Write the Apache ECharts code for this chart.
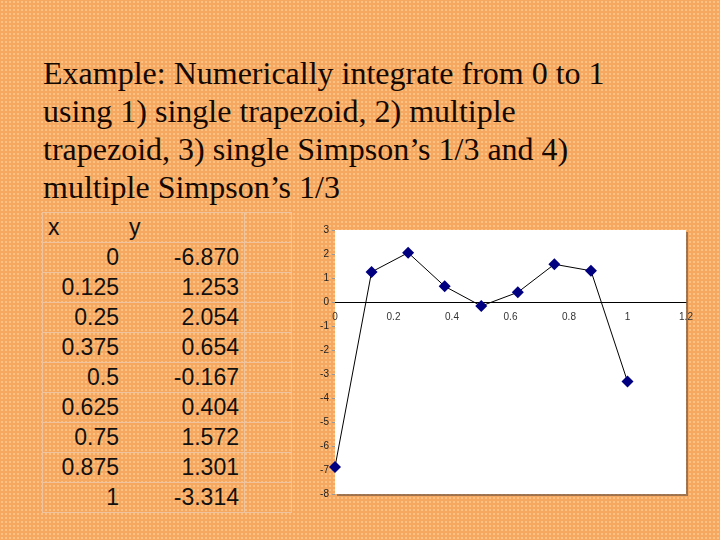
<!DOCTYPE html>
<html>
<head>
<meta charset="utf-8">
<script src="https://cdn.jsdelivr.net/npm/echarts@6/dist/echarts.min.js"></script>
<style>
  html, body { margin: 0; padding: 0; }
  body {
    width: 720px; height: 540px; overflow: hidden; position: relative;
    background-color: #f6a861;
    background-image: radial-gradient(circle, #fbc283 0.9px, transparent 1.2px);
    background-size: 4px 4px;
  }
  #title {
    position: absolute; left: 43px; top: 54px; margin: 0;
    font-family: "Liberation Serif", "Times New Roman", serif;
    font-size: 32px; line-height: 38px; font-weight: normal; color: #140800;
  }
  #table {
    position: absolute; left: 42px; top: 212px;
    border-collapse: collapse;
    font-family: "Liberation Sans", Arial, sans-serif; font-size: 23px; color: #111;
  }
  #table td {
    height: 29px; padding: 0 5px; border-top: 1px solid #eec39e; border-bottom: 1px solid #eec39e;
  }
  #table td.c1 { width: 71px; text-align: right; border-left: 1px solid #eec39e; }
  #table td.c2 { width: 110px; text-align: right; border-right: 1px solid #eec39e; }
  #table td.c3 { width: 36px; border-right: 1px solid #eec39e; }
  #chart { position: absolute; left: 0; top: 0; width: 720px; height: 540px; }
</style>
</head>
<body>
<div id="title">Example: Numerically integrate from 0 to 1<br>using 1) single trapezoid, 2) multiple<br>trapezoid, 3) single Simpson’s 1/3 and 4)<br>multiple Simpson’s 1/3</div>
<table id="table"></table>
<div id="chart"></div>
<script>
const xLabels = ['0', '0.125', '0.25', '0.375', '0.5', '0.625', '0.75', '0.875', '1'];
const xValues = [0, 0.125, 0.25, 0.375, 0.5, 0.625, 0.75, 0.875, 1];
const yValues = [-6.870, 1.253, 2.054, 0.654, -0.167, 0.404, 1.572, 1.301, -3.314];
const yMin = -8;
const yMax = 3;

// table on the left
const table = document.getElementById('table');
let rows = '<tr><td class="c1" style="text-align:left">x</td><td class="c2" style="text-align:left">y</td><td class="c3"></td></tr>';
xLabels.forEach((label, i) => {
  rows += `<tr><td class="c1">${label}</td><td class="c2">${yValues[i].toFixed(3)}</td><td class="c3"></td></tr>`;
});
table.innerHTML = rows;

const gridTop = 230;
const gridBottom = 46;
const gridHeight = 540 - gridTop - gridBottom;
// x axis sits on y = 0, with its labels right under it
const zeroOffset = -gridHeight * (0 - yMin) / (yMax - yMin);

const chart = echarts.init(document.getElementById('chart'));
chart.setOption({
  animation: false,
  grid: {
    show: true,
    left: 335, right: 34, top: gridTop, bottom: gridBottom,
    backgroundColor: '#ffffff',
    borderWidth: 0,
    shadowColor: 'rgba(90, 70, 60, 0.55)',
    shadowBlur: 0,
    shadowOffsetX: 2,
    shadowOffsetY: 2
  },
  xAxis: {
    type: 'value',
    min: 0, max: 1.2, interval: 0.2,
    offset: zeroOffset,
    axisLine: { onZero: false, lineStyle: { color: '#000', width: 1 } },
    axisTick: { show: false },
    axisLabel: {
      color: '#333', fontSize: 10, fontFamily: 'Liberation Sans, Arial', margin: 10,
      formatter: (v) => String(+v.toFixed(1))
    },
    splitLine: { show: false }
  },
  yAxis: {
    type: 'value',
    min: yMin, max: yMax, interval: 1,
    axisLine: { show: false },
    axisTick: { show: true, length: 3, lineStyle: { color: '#999' } },
    axisLabel: { color: '#222', fontSize: 10, fontFamily: 'Liberation Sans, Arial', margin: 6 },
    splitLine: { show: false }
  },
  series: [{
    type: 'line',
    data: xValues.map((x, i) => [x, yValues[i]]),
    symbol: 'diamond',
    symbolSize: 12,
    lineStyle: { color: '#000', width: 1 },
    itemStyle: { color: '#000080' }
  }]
});
</script>
</body>
</html>
